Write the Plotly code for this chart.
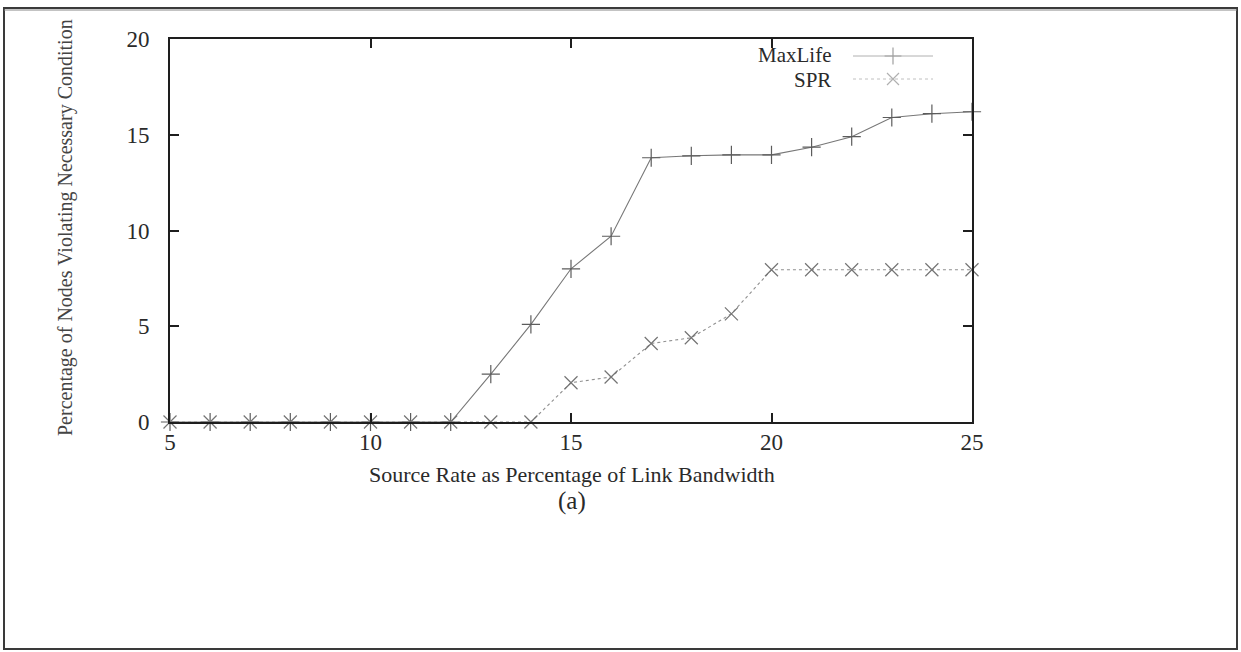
import plotly.graph_objects as go

# ---- data ----
source_rate = [5, 6, 7, 8, 9, 10, 11, 12, 13, 14, 15, 16, 17, 18, 19, 20, 21, 22, 23, 24, 25]
maxlife = [0, 0, 0, 0, 0, 0, 0, 0, 2.5, 5.1, 8.0, 9.7, 13.8, 13.9, 13.95, 13.95, 14.35, 14.9, 15.9, 16.1, 16.2]
spr = [0, 0, 0, 0, 0, 0, 0, 0, 0, 0, 2.05, 2.35, 4.1, 4.4, 5.65, 7.95, 7.95, 7.95, 7.95, 7.95, 7.95]
x_ticks = [5, 10, 15, 20, 25]
y_ticks = [0, 5, 10, 15, 20]
series_names = ["MaxLife", "SPR"]
x_title = "Source Rate as Percentage of Link Bandwidth"
y_title = "Percentage of Nodes Violating Necessary Condition"
caption = "(a)"

W, H = 1241, 652
L, R, T, B = 170, 269, 39, 230
PW = W - L - R
PH = H - T - B

def px(xp):
    return (xp - L) / PW

def py(yp):
    return (H - B - yp) / PH

FONT = "Liberation Serif"
LINE_COL = "#777777"
TEXT_COL = "#2a2a2a"

fig = go.Figure()
fig.add_trace(go.Scatter(
    x=source_rate, y=maxlife, mode="lines+markers", name=series_names[0],
    line=dict(color=LINE_COL, width=1.1),
    marker=dict(symbol="cross-thin", size=13, line=dict(color="#5c5c5c", width=1.2)),
    cliponaxis=False, showlegend=False))
fig.add_trace(go.Scatter(
    x=source_rate, y=spr, mode="lines+markers", name=series_names[1],
    line=dict(color="#909090", width=1.1, dash="dot"),
    marker=dict(symbol="x-thin", size=13, line=dict(color="#747474", width=1.2)),
    cliponaxis=False, showlegend=False))

# legend samples on an overlay pixel axis
leg_y = [56, 79]
leg_x0, leg_x1, leg_mx = 853, 933, 893
fig.add_trace(go.Scatter(x=[leg_x0, leg_x1], y=[leg_y[0]] * 2, mode="lines",
                         line=dict(color="#b0b0b0", width=1), xaxis="x2", yaxis="y2", showlegend=False))
fig.add_trace(go.Scatter(x=[leg_mx], y=[leg_y[0]], mode="markers",
                         marker=dict(symbol="cross-thin", size=12, line=dict(color="#a0a0a0", width=1.2)),
                         xaxis="x2", yaxis="y2", showlegend=False))
fig.add_trace(go.Scatter(x=[leg_x0, leg_x1], y=[leg_y[1]] * 2, mode="lines",
                         line=dict(color="#c0c0c0", width=1, dash="dot"), xaxis="x2", yaxis="y2", showlegend=False))
fig.add_trace(go.Scatter(x=[leg_mx], y=[leg_y[1]], mode="markers",
                         marker=dict(symbol="x-thin", size=12, line=dict(color="#b0b0b0", width=1.2)),
                         xaxis="x2", yaxis="y2", showlegend=False))

annotations = [
    dict(text=series_names[0], x=px(833), y=py(leg_y[0] - 1), xref="paper", yref="paper",
         xanchor="right", yanchor="middle", showarrow=False,
         font=dict(family=FONT, size=21, color=TEXT_COL)),
    dict(text=series_names[1], x=px(833), y=py(leg_y[1] + 1), xref="paper", yref="paper",
         xanchor="right", yanchor="middle", showarrow=False,
         font=dict(family=FONT, size=21, color=TEXT_COL)),
    dict(text=x_title, x=px(572), y=py(475), xref="paper", yref="paper",
         xanchor="center", yanchor="middle", showarrow=False,
         font=dict(family=FONT, size=22, color=TEXT_COL)),
    dict(text=caption, x=px(572), y=py(501), xref="paper", yref="paper",
         xanchor="center", yanchor="middle", showarrow=False,
         font=dict(family=FONT, size=25, color=TEXT_COL)),
    dict(text=y_title, x=px(65), y=py(228), xref="paper", yref="paper",
         xanchor="center", yanchor="middle", showarrow=False, textangle=-90,
         font=dict(family=FONT, size=20, color="#444")),
]

shapes = [
    dict(type="rect", xref="paper", yref="paper",
         x0=px(4), x1=px(1237), y0=py(649), y1=py(8),
         line=dict(color="#3a3a3a", width=2), fillcolor="rgba(0,0,0,0)", layer="below"),
    dict(type="line", xref="paper", yref="paper",
         x0=px(4), x1=px(1237), y0=py(10), y1=py(10),
         line=dict(color="#888", width=1), layer="below"),
]

axis_common = dict(showgrid=False, zeroline=False, showline=True, linecolor="#1e1e1e",
                   linewidth=2, mirror="ticks", ticks="inside", ticklen=9, tickwidth=2,
                   tickcolor="#1e1e1e", tickfont=dict(family=FONT, size=23, color=TEXT_COL))

fig.update_layout(
    width=W, height=H,
    margin=dict(l=L, r=R, t=T, b=B, pad=0),
    paper_bgcolor="white", plot_bgcolor="white",
    xaxis=dict(range=[5, 25], tickvals=x_ticks, ticklabelstandoff=-2, **axis_common),
    yaxis=dict(range=[0, 20], tickvals=y_ticks, ticklabelstandoff=14, **axis_common),
    xaxis2=dict(overlaying="x", range=[L, W - R], visible=False, fixedrange=True),
    yaxis2=dict(overlaying="y", range=[H - B, T], visible=False, fixedrange=True),
    annotations=annotations, shapes=shapes, showlegend=False,
)

fig.write_html("out.html")
